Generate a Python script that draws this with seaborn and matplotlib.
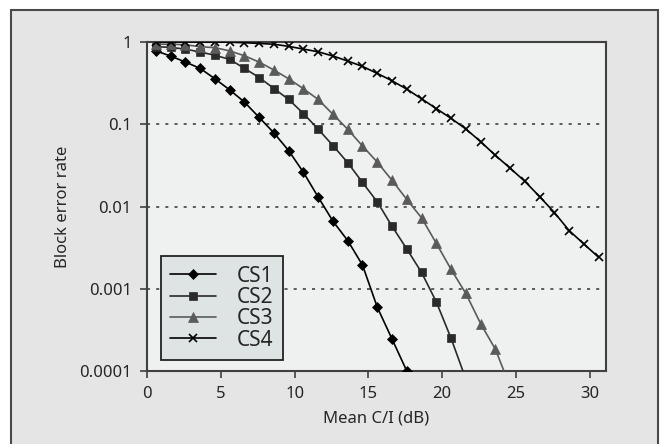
import seaborn as sns
import matplotlib.pyplot as plt
import matplotlib.patches as mpatches
import pandas as pd
import numpy as np

# Mean C/I (dB) sample points, one per dB
ci_db = [0.6 + k for k in range(31)]

# Block error rate
cs1 = [0.78, 0.675, 0.57, 0.478, 0.357, 0.262, 0.186, 0.121, 0.0784, 0.0477,
       0.026, 0.013, 0.00662, 0.00385, 0.00194, 0.000597, 0.000245, 0.0001]
cs2 = [0.877, 0.86, 0.82, 0.755, 0.69, 0.615, 0.478, 0.37, 0.272, 0.2,
       0.135, 0.0869, 0.055, 0.0341, 0.0196, 0.0114, 0.00575, 0.00305, 0.00158,
       0.000693, 0.00025, 0.00008]
cs3 = [0.94, 0.94, 0.925, 0.877, 0.853, 0.78, 0.68, 0.57, 0.456, 0.357,
       0.27, 0.2, 0.132, 0.0869, 0.0544, 0.0347, 0.0208, 0.0122, 0.00728,
       0.00357, 0.00172, 0.000877, 0.000378, 0.000184, 0.000065]
cs4 = [1.0, 1.0, 1.0, 1.0, 0.998, 0.995, 0.98, 0.96, 0.94, 0.885,
       0.82, 0.76, 0.675, 0.587, 0.505, 0.415, 0.338, 0.267, 0.204, 0.155,
       0.118, 0.0877, 0.0615, 0.0419, 0.0293, 0.0202, 0.0132, 0.00845, 0.0051,
       0.0035, 0.00241]

series = {"CS1": cs1, "CS2": cs2, "CS3": cs3, "CS4": cs4}
rows = []
for name, vals in series.items():
    for x, y in zip(ci_db, vals):
        rows.append({"scheme": name, "ci": x, "bler": y})
df = pd.DataFrame(rows)

# look of each scheme
styles = {
    "CS1": dict(color="#000000", marker="D", ms=5.5),
    "CS2": dict(color="#2a2a2a", marker="s", ms=5.2),
    "CS3": dict(color="#5a5a5a", marker="^", ms=6.5),
    "CS4": dict(color="#000000", marker="x", ms=5.5),
}

sns.set_style("ticks")
plt.rcParams['font.family'] = ['Noto Sans', 'DejaVu Sans']

fig = plt.figure(figsize=(6.64, 4.44), dpi=100, facecolor="white")
# grey panel with a frame around it
fig.patches.append(mpatches.Rectangle((11 / 664, -0.05), 647 / 664, 1 - 10.5 / 444 + 0.05,
                                      transform=fig.transFigure, facecolor="#e5e5e5",
                                      edgecolor="#4a4a4a", linewidth=1.5, zorder=-10))
ax = fig.add_axes([0.2214, 0.1644, 0.6913, 0.741])
ax.set_facecolor("#eef1f0")

for name, st in styles.items():
    sub = df[df["scheme"] == name]
    sns.lineplot(data=sub, x="ci", y="bler", ax=ax, color=st["color"],
                 marker=st["marker"], markersize=st["ms"], linewidth=1.2,
                 markeredgecolor=st["color"], markeredgewidth=1.2 if name == "CS4" else 0.5,
                 label=name, zorder=3)

ax.set_yscale("log")
ax.set_xlim(0, 31.1)
ax.set_ylim(0.0001, 1)
ax.set_xticks([0, 5, 10, 15, 20, 25, 30])
ax.set_yticks([0.0001, 0.001, 0.01, 0.1, 1])
ax.set_yticklabels(["0.0001", "0.001", "0.01", "0.1", "1"])
ax.minorticks_off()
ax.tick_params(axis="both", labelsize=12, length=5, width=1.2, color="#404040", pad=6)

for y in [0.1, 0.01, 0.001]:
    ax.axhline(y, color="#333333", linestyle=(0, (2, 4)), linewidth=1.1, zorder=1)

for side in ["left", "bottom", "top", "right"]:
    ax.spines[side].set_color("#404040")
    ax.spines[side].set_linewidth(1.5)

ax.set_xlabel("Mean C/I (dB)", fontsize=12, labelpad=6)
ax.set_ylabel("Block error rate", fontsize=12, labelpad=6)

leg = ax.legend(loc="lower left", bbox_to_anchor=(0.03, 0.033), fontsize=15,
                frameon=True, fancybox=False, framealpha=1, facecolor="#dde4e3",
                edgecolor="#222222", handlelength=2.2, handletextpad=1.0,
                labelspacing=0.02, borderpad=0.45, borderaxespad=0)
leg.get_frame().set_linewidth(1.3)

fig.savefig("out.png", dpi=100, facecolor=fig.get_facecolor())
